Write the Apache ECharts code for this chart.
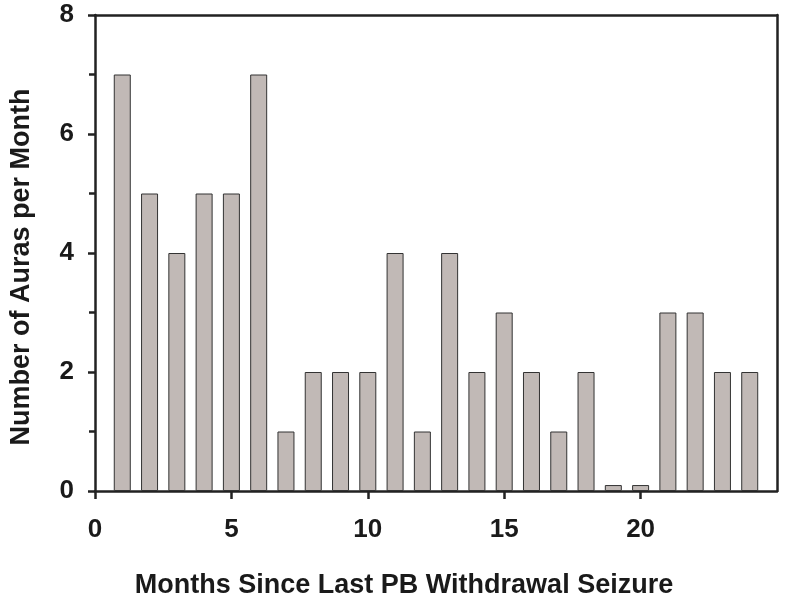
<!DOCTYPE html>
<html>
<head>
<meta charset="utf-8">
<script src="https://cdn.jsdelivr.net/npm/echarts@6/dist/echarts.min.js"></script>
<style>html,body{margin:0;padding:0;background:#fff}#c{width:785px;height:604px}</style>
</head>
<body>
<div id="c"></div>
<script>
const months = [1,2,3,4,5,6,7,8,9,10,11,12,13,14,15,16,17,18,19,20,21,22,23,24];
const auras = [7,5,4,5,5,7,1,2,2,2,4,1,4,2,3,2,1,2,0.1,0.1,3,3,2,2];
const xTicks = [0,5,10,15,20];
const yTicks = [0,2,4,6,8];
const xTitle = 'Months Since Last PB Withdrawal Seizure';
const yTitle = 'Number of Auras per Month';

const font = '"Liberation Sans", Arial, sans-serif';
const axisColor = '#222';
const textColor = '#1a1a1a';
const chart = echarts.init(document.getElementById('c'), null, {renderer: 'canvas'});
chart.setOption({
  animation: false,
  backgroundColor: '#fff',
  grid: {left: 93, right: 8, top: 15, bottom: 113, containLabel: false},
  xAxis: [{
    type: 'value', min: 0, max: 25, interval: 5,
    axisLine: {show: true, onZero: false, lineStyle: {color: axisColor, width: 2.5}},
    axisTick: {show: true, inside: false, length: 8, customValues: xTicks, lineStyle: {color: axisColor, width: 2.5}},
    axisLabel: {show: true, customValues: xTicks, margin: 26, fontSize: 26, fontWeight: 'bold', color: textColor, fontFamily: font},
    splitLine: {show: false},
    name: xTitle, nameLocation: 'middle', nameGap: 81,
    nameTextStyle: {fontSize: 27, fontWeight: 'bold', color: textColor, fontFamily: font, padding: [0, 64, 0, 0]}
  }, {
    type: 'value', position: 'top', min: 0, max: 25,
    axisLine: {show: true, onZero: false, lineStyle: {color: axisColor, width: 2.5}},
    axisTick: {show: false}, axisLabel: {show: false}, splitLine: {show: false}
  }],
  yAxis: [{
    type: 'value', min: 0, max: 8, interval: 2,
    axisLine: {show: true, onZero: false, lineStyle: {color: axisColor, width: 2.5}},
    axisTick: {show: true, inside: false, length: 7, lineStyle: {color: axisColor, width: 2.5}},
    minorTick: {show: true, splitNumber: 2, length: 6, lineStyle: {color: axisColor, width: 2.5}},
    axisLabel: {show: true, margin: 21, fontSize: 26, fontWeight: 'bold', color: textColor, fontFamily: font,
      customValues: yTicks},
    splitLine: {show: false},
    name: yTitle, nameLocation: 'middle', nameGap: 60, nameRotate: 90,
    nameTextStyle: {fontSize: 27, fontWeight: 'bold', color: textColor, fontFamily: font, padding: [0, 28, 0, 0]}
  }, {
    type: 'value', position: 'right', min: 0, max: 8,
    axisLine: {show: true, onZero: false, lineStyle: {color: axisColor, width: 2.5}},
    axisTick: {show: false}, axisLabel: {show: false}, splitLine: {show: false}
  }],
  series: [{
    type: 'bar',
    xAxisIndex: 0, yAxisIndex: 0,
    data: months.map((m, i) => [m, auras[i]]),
    barWidth: 17,
    itemStyle: {color: '#c1b9b6', borderColor: '#333', borderWidth: 1}
  }]
});
</script>
</body>
</html>
